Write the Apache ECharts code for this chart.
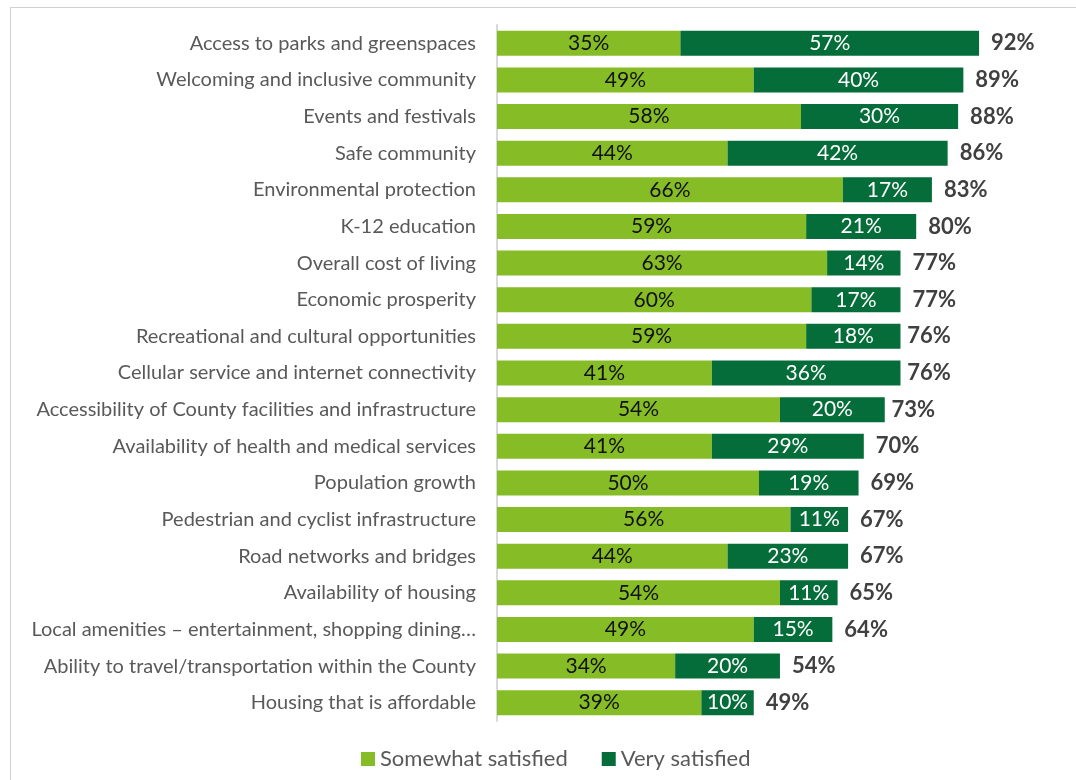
<!DOCTYPE html>
<html>
<head>
<meta charset="utf-8">
<script src="https://cdn.jsdelivr.net/npm/echarts@6/dist/echarts.min.js"></script>
<style>
  html, body { margin: 0; padding: 0; background: #fff; }
  #frame { position: absolute; left: 10px; top: 7px; width: 1100px; height: 800px; border: 1px solid #d0d0d0; box-sizing: border-box; }
  #chart { position: absolute; left: 0; top: 0; width: 1076px; height: 780px; }
</style>
</head>
<body>
<div id="frame"></div>
<div id="chart"></div>
<script>
// Satisfaction by community attribute (percent)
const categories = [
  'Access to parks and greenspaces',
  'Welcoming and inclusive community',
  'Events and festivals',
  'Safe community',
  'Environmental protection',
  'K-12 education',
  'Overall cost of living',
  'Economic prosperity',
  'Recreational and cultural opportunities',
  'Cellular service and internet connectivity',
  'Accessibility of County facilities and infrastructure',
  'Availability of health and medical services',
  'Population growth',
  'Pedestrian and cyclist infrastructure',
  'Road networks and bridges',
  'Availability of housing',
  'Local amenities \u2013 entertainment, shopping dining\u2026',
  'Ability to travel/transportation within the County',
  'Housing that is affordable'
];
const somewhatSatisfied = [35, 49, 58, 44, 66, 59, 63, 60, 59, 41, 54, 41, 50, 56, 44, 54, 49, 34, 39];
const verySatisfied     = [57, 40, 30, 42, 17, 21, 14, 17, 18, 36, 20, 29, 19, 11, 23, 11, 15, 20, 10];
const totalSatisfied    = [92, 89, 88, 86, 83, 80, 77, 77, 76, 76, 73, 70, 69, 67, 67, 65, 64, 54, 49];

const FONT = 'Lato';
const chart = echarts.init(document.getElementById('chart'), null, { renderer: 'canvas' });

chart.setOption({
  animation: false,
  textStyle: { fontFamily: FONT },
  grid: { left: 497, right: 55, top: 25, bottom: 59, containLabel: false },
  legend: {
    bottom: 5,
    left: 356,
    itemWidth: 14,
    itemHeight: 14,
    itemGap: 34,
    icon: 'rect',
    textStyle: { fontFamily: FONT, fontSize: 22, color: '#595959' },
    data: ['Somewhat satisfied', 'Very satisfied']
  },
  xAxis: {
    type: 'value', min: 0, max: 100,
    show: false
  },
  yAxis: {
    type: 'category',
    inverse: true,
    data: categories,
    axisLine: { show: true, lineStyle: { color: '#d9d9d9', width: 2 } },
    axisTick: { show: false },
    axisLabel: { fontFamily: FONT, fontSize: 20, color: '#595959', margin: 21 }
  },
  series: [
    {
      name: 'Somewhat satisfied',
      type: 'bar',
      stack: 'sat',
      barWidth: 25,
      data: somewhatSatisfied,
      itemStyle: { color: '#86bc25' },
      label: { show: true, position: 'inside', formatter: '{c}%', fontFamily: FONT, fontSize: 21, color: '#111' }
    },
    {
      name: 'Very satisfied',
      type: 'bar',
      stack: 'sat',
      barWidth: 25,
      data: verySatisfied,
      itemStyle: { color: '#056d3a' },
      label: { show: true, position: 'inside', formatter: '{c}%', fontFamily: FONT, fontSize: 21, color: '#fff' }
    },
    {
      name: 'Total',
      type: 'bar',
      barWidth: 25,
      barGap: '-100%',
      data: totalSatisfied,
      silent: true,
      z: 1,
      itemStyle: { color: 'rgba(0,0,0,0)' },
      label: { show: true, position: 'right', distance: 12, formatter: '{c}%', fontFamily: FONT, fontSize: 22, fontWeight: 'bold', color: '#404040' }
    }
  ]
});
</script>
</body>
</html>
